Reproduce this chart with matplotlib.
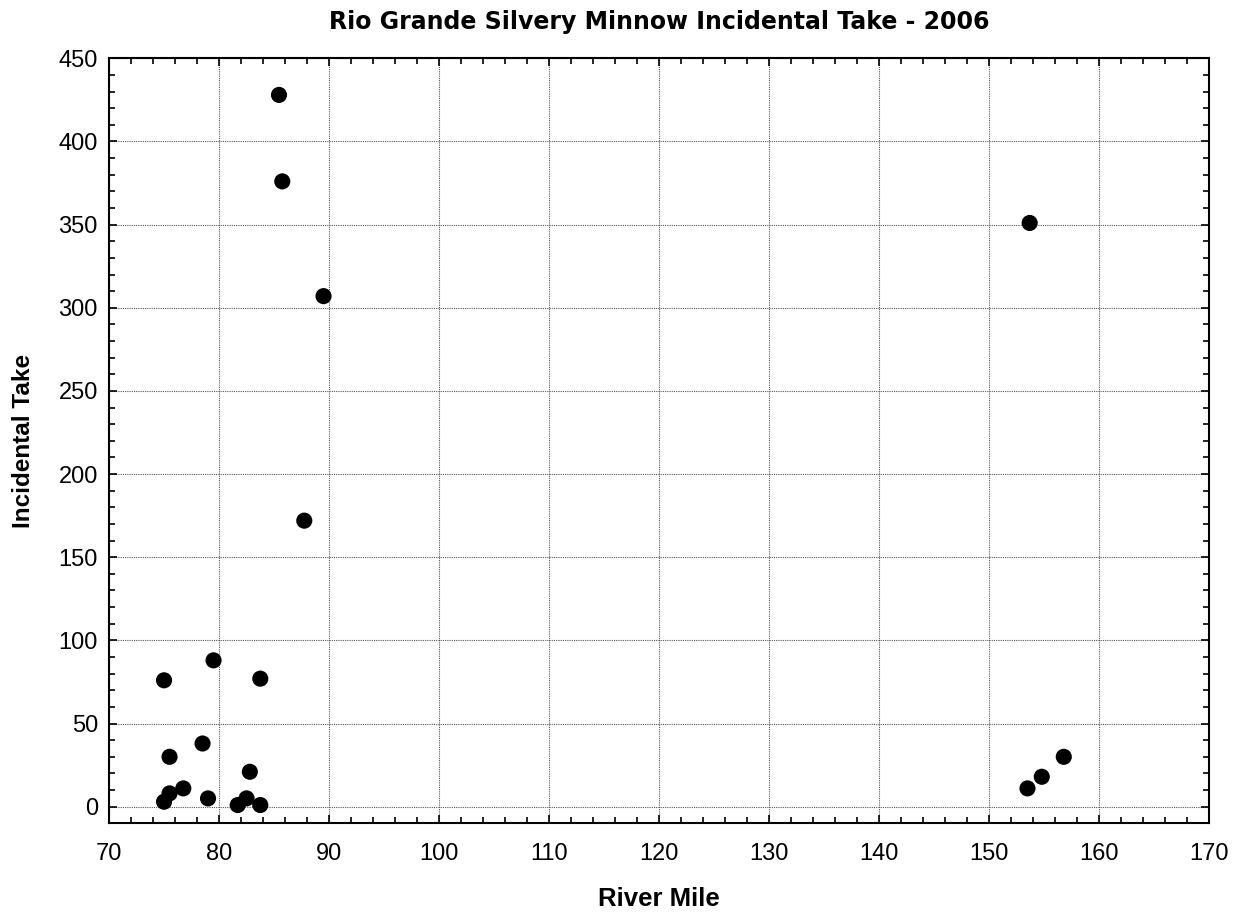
import matplotlib
matplotlib.use("Agg")
import matplotlib.pyplot as plt
from matplotlib.ticker import MultipleLocator

# River mile and incidental take
river_mile = [75.0, 79.5, 83.75, 78.5, 75.5, 82.8, 76.75, 75.5, 75.0, 79.0,
              82.5, 81.7, 83.75, 85.45, 85.75, 89.5, 87.75, 153.7, 153.5,
              154.8, 156.8]
take = [76, 88, 77, 38, 30, 21, 11, 8, 3, 5,
        5, 1, 1, 428, 376, 307, 172, 351, 11,
        18, 30]

plt.rcParams["font.family"] = ["Liberation Sans", "DejaVu Sans"]

fig = plt.figure(figsize=(12.42, 9.14), dpi=100)
ax = fig.add_axes([0.0878, 0.0992, 0.8856, 0.837])

ax.scatter(river_mile, take, s=135, c="black", zorder=3, edgecolors="none")

ax.set_xlim(70, 170)
ax.set_ylim(-10, 450)
ax.xaxis.set_major_locator(MultipleLocator(10))
ax.xaxis.set_minor_locator(MultipleLocator(2))
ax.yaxis.set_major_locator(MultipleLocator(50))
ax.yaxis.set_minor_locator(MultipleLocator(10))

ax.grid(True, which="major", linestyle=(0, (1, 1)), color="#555555", linewidth=0.8)
ax.tick_params(which="both", direction="in", top=True, right=True,
               labelsize=17, width=1.2)
ax.tick_params(which="major", length=6, pad=8)
ax.tick_params(axis="x", which="major", pad=14)
ax.tick_params(which="minor", length=4)
for sp in ax.spines.values():
    sp.set_linewidth(1.5)

ax.set_title("Rio Grande Silvery Minnow Incidental Take - 2006",
             fontsize=17, fontweight="bold", family="DejaVu Sans", pad=21)
ax.set_xlabel("River Mile", fontsize=18.5, fontweight="bold", labelpad=16)
ax.set_ylabel("Incidental Take", fontsize=17.5, fontweight="bold", labelpad=17)

fig.savefig("out.png", dpi=100)
